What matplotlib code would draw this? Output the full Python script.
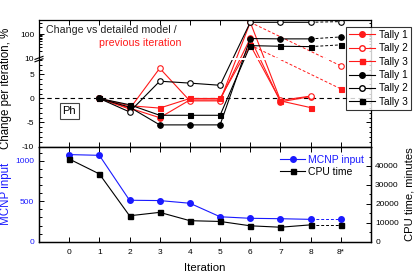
import numpy as np
import matplotlib
matplotlib.use("Agg")
import matplotlib.pyplot as plt
from matplotlib.ticker import FixedLocator, FixedFormatter, MultipleLocator
from matplotlib.lines import Line2D

plt.rcParams['font.family'] = ['Liberation Sans', 'DejaVu Sans']

# ---------------- data ----------------
iter_labels = ['0', '1', '2', '3', '4', '5', '6', '7', '8', '8*']
top_iters = [1, 2, 3, 4, 5, 6, 7, 8]           # iterations with solid lines (top panel)

# change vs previous iteration (red)
prev_t1 = [0, -2.0, -4.0, -0.3, -0.3, 67, -0.7, 0.4]
prev_t2 = [0, -2.2, 6.3, -0.5, -0.5, 309, -0.4, 0.5]
prev_t3 = [0, -1.5, -2.0, 0.0, 0.0, 35, -0.5, -1.9]
prev_t2_star = 6.8
prev_t3_star = 2.0

# change vs detailed model (black)
det_t1 = [0, -1.8, -5.5, -5.5, -5.5, 65, 63, 63]
det_t2 = [0, -2.8, 3.6, 3.2, 2.75, 309, 309, 309]
det_t3 = [0, -1.3, -3.5, -3.5, -3.5, 33, 31, 30]
det_t1_star = 76
det_t2_star = 330
det_t3_star = 35.5

# bottom panel
bot_iters = [0, 1, 2, 3, 4, 5, 6, 7, 8]
mcnp_input = [1076, 1067, 512, 508, 475, 308, 289, 284, 276]
mcnp_input_star = 276
cpu_time = [43700, 35800, 13700, 15500, 11100, 10700, 8400, 7650, 8900]
cpu_time_star = 8900

STAR = 9  # position of 8*

RED = '#ff1a1a'
BLUE = '#1a1aff'

# ---------------- broken scale ----------------
def fwd(y):
    y = np.asarray(y, dtype=float)
    with np.errstate(divide='ignore', invalid='ignore'):
        lg = 40.4 + 24 * np.log10(np.clip(y, 1e-9, None) / 10.0)
    return np.where(y <= 8, 4.8 * y, np.where(y < 10, 38.4 + (y - 8) * 1.0, lg))

def inv(t):
    t = np.asarray(t, dtype=float)
    with np.errstate(over='ignore', invalid='ignore'):
        lg = 10.0 * 10 ** ((t - 40.4) / 24.0)
    return np.where(t <= 38.4, t / 4.8, np.where(t < 40.4, 8 + (t - 38.4), lg))

W, H = 419, 276
fig = plt.figure(figsize=(W / 100, H / 100), dpi=100)

L, R = 39 / W, 371 / W
y_top, y_mid, y_bot = 1 - 20 / H, 1 - 146.5 / H, 1 - 241.7 / H
ax = fig.add_axes([L, y_mid, R - L, y_top - y_mid])
ax2 = fig.add_axes([L, y_bot, R - L, y_mid - y_bot])
ax3 = ax2.twinx()

lw = 0.8
ms_c = 4.0
ms_s = 3.6

# ---------------- top panel ----------------
ax.set_yscale('function', functions=(fwd, inv))
ax.set_xlim(-1, 10)
ax.set_ylim(-10, 385)

ax.axhline(0, color='k', lw=0.8, ls=(0, (4, 3)), zorder=1)

def series(yvals, color, marker, mfc, ms, star=None, star_from=None, name=None):
    ax.plot(top_iters, yvals, '-', color=color, lw=lw, marker=marker, ms=ms,
            mfc=mfc, mec=color, mew=0.8, zorder=2)
    if star is not None:
        i0 = top_iters.index(star_from)
        ax.plot([star_from, STAR], [yvals[i0], star], color=color, lw=0.7,
                ls=(0, (3, 2)), zorder=1.9)
        ax.plot([STAR], [star], ls='none', marker=marker, ms=ms, mfc=mfc,
                mec=color, mew=0.8, zorder=2)

series(prev_t1, RED, 'o', RED, ms_c)
series(prev_t2, RED, 'o', 'white', ms_c, prev_t2_star, 6)
series(prev_t3, RED, 's', RED, ms_s, prev_t3_star, 6)
series(det_t1, 'k', 'o', 'k', ms_c, det_t1_star, 8)
series(det_t2, 'k', 'o', 'white', ms_c, det_t2_star, 8)
series(det_t3, 'k', 's', 'k', ms_s, det_t3_star, 8)

# break gap
ax.axhspan(8.1, 9.9, color='white', zorder=2.2, lw=0)

ax.yaxis.set_major_locator(FixedLocator([-10, -5, 0, 5, 10, 100]))
ax.yaxis.set_major_formatter(FixedFormatter(['-10', '-5', '0', '5', '10', '100']))
minor = [v for v in range(-10, 9) if v % 5 != 0] + [20, 30, 40, 50, 60, 70, 80, 90, 200, 300]
ax.yaxis.set_minor_locator(FixedLocator(minor))
ax.set_xticks(range(10))
ax.tick_params(axis='x', which='both', labelbottom=False)
ax.tick_params(which='both', direction='in', top=True, right=True, width=0.7)
ax.tick_params(which='major', length=3.5, labelsize=6)
ax.tick_params(which='minor', length=1.8)
for s in ax.spines.values():
    s.set_linewidth(0.9)
ax.set_ylabel('Change per iteration, %', fontsize=8.3, labelpad=6)
ax.yaxis.set_label_coords(-0.082, 0.46)

# break marks on left axis
yb = ax.transAxes.inverted().transform(ax.transData.transform((0, 9)))[1]
dx, dy = 4 / (R - L) / W, 1.5 / (y_top - y_mid) / H
for off in (-1.2, 1.2):
    oy = off / (y_top - y_mid) / H
    ax.plot([-dx, dx], [yb + oy - dy, yb + oy + dy], transform=ax.transAxes,
            color='k', lw=0.8, clip_on=False, zorder=5)

ax.text(0, -2.6, 'Ph', ha='center', va='center', fontsize=8,
        bbox=dict(boxstyle='square,pad=0.25', fc='white', ec='#444444', lw=0.8))

fig.text(46 / W, 1 - 30 / H, 'Change vs detailed model /', fontsize=7.7,
         ha='left', va='center', color='#222222')
fig.text(99 / W, 1 - 43.5 / H, 'previous iteration', fontsize=7.7,
         ha='left', va='center', color=RED)

handles = [
    Line2D([], [], color=RED, lw=lw, marker='o', ms=ms_c, mfc=RED, mec=RED),
    Line2D([], [], color=RED, lw=lw, marker='o', ms=ms_c, mfc='white', mec=RED),
    Line2D([], [], color=RED, lw=lw, marker='s', ms=ms_s, mfc=RED, mec=RED),
    Line2D([], [], color='k', lw=lw, marker='o', ms=ms_c, mfc='k', mec='k'),
    Line2D([], [], color='k', lw=lw, marker='o', ms=ms_c, mfc='white', mec='k'),
    Line2D([], [], color='k', lw=lw, marker='s', ms=ms_s, mfc='k', mec='k'),
]
labels = ['Tally 1', 'Tally 2', 'Tally 3', 'Tally 1', 'Tally 2', 'Tally 3']
leg = fig.legend(handles, labels, loc='upper left',
                 bbox_to_anchor=(346 / W, 1 - 27 / H), fontsize=7.3,
                 frameon=True, fancybox=False, handlelength=2.6,
                 handletextpad=0.35, labelspacing=0.33, borderpad=0.3,
                 borderaxespad=0)
leg.get_frame().set_edgecolor('k')
leg.get_frame().set_linewidth(0.8)
leg.set_zorder(10)

# ---------------- bottom panel ----------------
ax2.set_xlim(-1, 10)
ax2.set_ylim(0, 1176)
ax3.set_ylim(0, 50300)

l1, = ax2.plot(bot_iters, mcnp_input, '-', color=BLUE, lw=lw, marker='o',
               ms=ms_c, mfc=BLUE, mec=BLUE, zorder=3)
ax2.plot([8, STAR], [mcnp_input[-1], mcnp_input_star], color=BLUE, lw=0.7,
         ls=(0, (3, 2)))
ax2.plot([STAR], [mcnp_input_star], ls='none', marker='o', ms=ms_c, color=BLUE)

l2, = ax3.plot(bot_iters, cpu_time, '-', color='k', lw=lw, marker='s',
               ms=ms_s, mfc='k', mec='k')
ax3.plot([8, STAR], [cpu_time[-1], cpu_time_star], color='k', lw=0.7,
         ls=(0, (3, 2)))
ax3.plot([STAR], [cpu_time_star], ls='none', marker='s', ms=ms_s, color='k')

ax2.set_xticks(range(10))
ax2.set_xticklabels(iter_labels)
ax2.set_yticks([0, 500, 1000])
ax2.yaxis.set_minor_locator(MultipleLocator(100))
ax2.tick_params(which='both', direction='in', top=True, width=0.7)
ax2.tick_params(which='major', length=3.5, labelsize=6)
ax2.tick_params(which='minor', length=1.8)
ax2.tick_params(axis='y', colors=BLUE, which='both')
ax2.tick_params(axis='y', which='both', color='k')
ax2.tick_params(axis='x', pad=5)
ax2.set_ylabel('MCNP input', fontsize=8.3, color=BLUE)
ax2.yaxis.set_label_coords(-0.082, 0.5)
ax2.set_xlabel('Iteration', fontsize=8.2, labelpad=5)

ax3.set_yticks([0, 10000, 20000, 30000, 40000])
ax3.set_yticklabels(['0', '10000', '20000', '30000', '40000'])
ax3.yaxis.set_minor_locator(MultipleLocator(5000))
ax3.tick_params(which='both', direction='in', width=0.7)
ax3.tick_params(which='major', length=3.5, labelsize=6, pad=3)
ax3.tick_params(which='minor', length=1.8)
ax3.set_ylabel('CPU time, minutes', fontsize=8.1, labelpad=4)
for a in (ax2, ax3):
    for s in a.spines.values():
        s.set_linewidth(0.9)

leg2 = fig.legend([l1, l2], ['MCNP input', 'CPU time'], loc='upper left',
                  bbox_to_anchor=(279 / W, 1 - 154 / H), fontsize=7.5,
                  frameon=False, handlelength=2.4, handletextpad=0.3,
                  labelspacing=0.15, borderpad=0.1, borderaxespad=0)
leg2.get_texts()[0].set_color(BLUE)

fig.savefig('out.png', dpi=100)
